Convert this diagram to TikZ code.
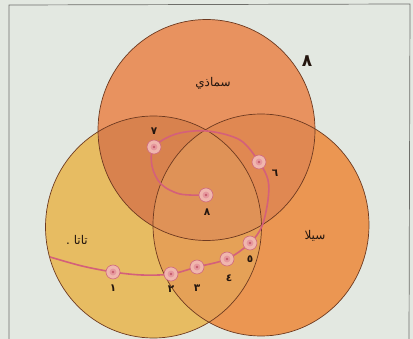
\documentclass[tikz,border=0pt]{standalone}
\usepackage{fontspec}
\TeXXeTstate=1
\newfontfamily\arabicfont[Script=Arabic]{DejaVu Sans}
\definecolor{bgc}{HTML}{E3E8E1}
\definecolor{framec}{HTML}{6E6E6A}
\definecolor{Lc}{HTML}{E7BC62}
\definecolor{Rc}{HTML}{EB9652}
\definecolor{Tc}{HTML}{E8925F}
\definecolor{LRc}{HTML}{E5A157}
\definecolor{TLc}{HTML}{D8824E}
\definecolor{TRc}{HTML}{E08852}
\definecolor{TLRc}{HTML}{DF9257}
\definecolor{edgec}{HTML}{6E3A20}
\definecolor{pathc}{HTML}{D4607A}
\definecolor{cellc}{HTML}{F0B6AE}
\definecolor{celledge}{HTML}{D06A7C}
\definecolor{cellin}{HTML}{E6989E}
\definecolor{celldot}{HTML}{C65C6C}
\definecolor{txtc}{HTML}{24160F}
\newcommand\shpL{(153.5,227) ellipse [x radius=108pt, y radius=111pt]}
\newcommand\shpR{(261,225) ellipse [x radius=108pt, y radius=111pt]}
\newcommand\shpT{(206.5,130) ellipse [x radius=108.5pt, y radius=110.5pt]}
\tikzset{
  cellnode/.style={circle, fill=cellc, draw=celledge, line width=0.6pt, minimum size=14pt, inner sep=0pt},
  numlabel/.style={font=\arabicfont\bfseries\fontsize{10.5}{12}\selectfont, text=txtc, inner sep=0pt},
  namelabel/.style={font=\arabicfont\fontsize{12}{14}\selectfont, text=txtc, inner sep=0pt},
  edgeline/.style={draw=edgec, line width=0.7pt}
}
\begin{document}
\begin{tikzpicture}[x=1pt,y=-1pt]
\useasboundingbox (0,0) rectangle (413,339);
\fill[bgc] (0,0) rectangle (413,339);
\draw[framec, line width=0.7pt] (9,345) -- (9,5) -- (410,4) -- (409,345);
% base fills
\fill[Lc] \shpL;
\fill[Rc] \shpR;
\fill[Tc] \shpT;
\begin{scope}\clip \shpL; \fill[LRc] \shpR; \fill[TLc] \shpT; \end{scope}
\begin{scope}\clip \shpR; \fill[TRc] \shpT; \end{scope}
\begin{scope}\clip \shpL; \clip \shpR; \fill[TLRc] \shpT; \end{scope}
% outlines
\draw[edgeline] \shpL;
\draw[edgeline] \shpR;
\draw[edgeline] \shpT;
% cells
\coordinate (s) at (50,257);
\coordinate (c1) at (113,272);
\coordinate (c2) at (171,274);
\coordinate (c3) at (197,267);
\coordinate (c4) at (227,259);
\coordinate (c5) at (250,243);
\coordinate (c6) at (259,162);
\coordinate (c7) at (154,147);
\coordinate (c8) at (206,195);
\draw[pathc, line width=1.6pt] plot[smooth, tension=0.55] coordinates {
  (s) (82,266) (c1) (142,275) (c2) (c3) (c4) (c5) (262,226) (268,200) (268,180) (c6)
  (240,140) (207,131) (176,134) (c7) (152,166) (161,184) (180,194) (c8)};
\foreach \c in {1,...,8}{
  \node[cellnode] (n\c) at (c\c) {};
  \fill[cellin] (c\c) circle (3.4pt);
  \fill[celldot] (c\c) circle (1.4pt);
}
% labels
\node[numlabel] (l1) at (113,288) {١};
\node[numlabel] (l2) at (171,289) {٢};
\node[numlabel] (l3) at (197,288) {٣};
\node[numlabel] (l4) at (229,278) {٤};
\node[numlabel] (l5) at (250,259) {٥};
\node[numlabel] (l6) at (275,173) {٦};
\node[numlabel] (l7) at (154,131) {٧};
\node[numlabel] (l8) at (207,212) {٨};
\node[namelabel] (nT) at (213,83) {\beginR سماذي\endR};
\node[namelabel] (nL) at (77,240) {\beginR تاتا .\endR};
\node[namelabel] (nR) at (315,236) {\beginR سيلا\endR};
\node[font=\arabicfont\bfseries\fontsize{17}{19}\selectfont, text=txtc, inner sep=0pt] (big) at (307,61) {٨};
\end{tikzpicture}
\end{document}
